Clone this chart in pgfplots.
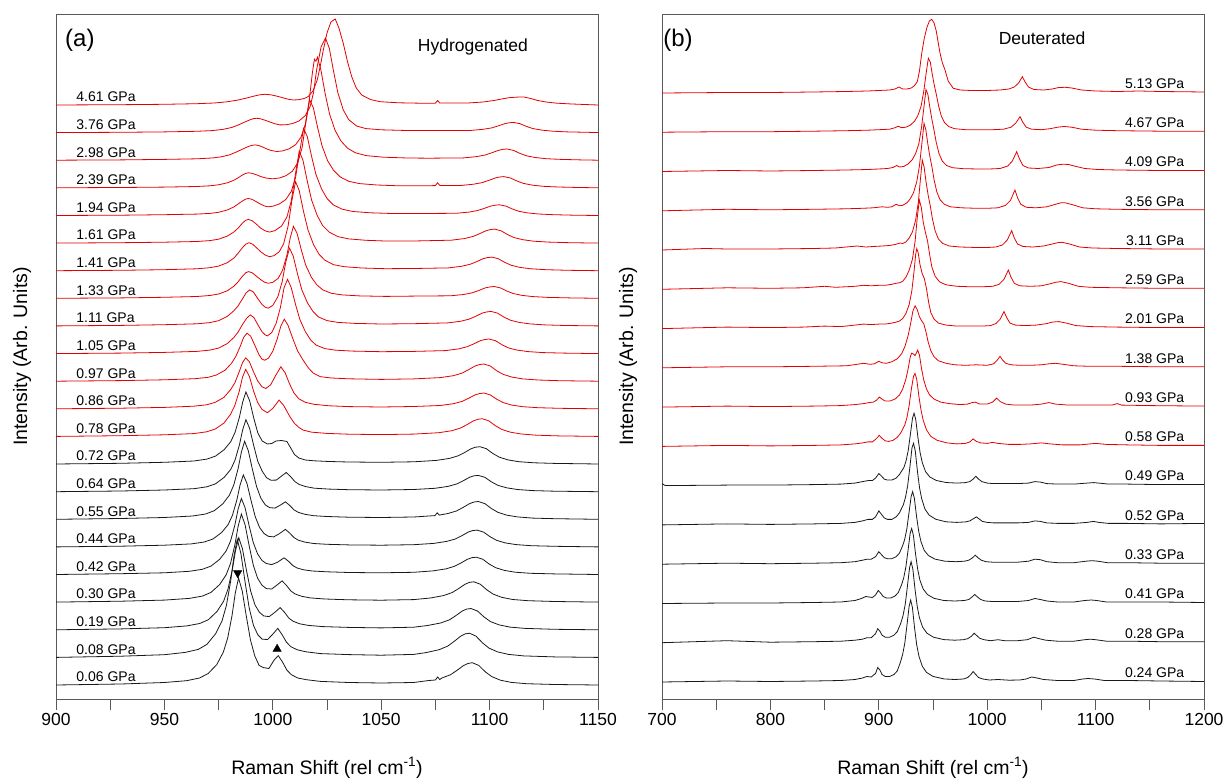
\documentclass[border=0pt]{standalone}
\usepackage{fontspec}
\setmainfont{Liberation Sans}
\usepackage{pgfplots}
\pgfplotsset{compat=1.18}
\definecolor{sred}{RGB}{228,0,0}
\definecolor{sblk}{RGB}{25,25,25}
\pgfplotsset{
  panel/.style={scale only axis, width=542pt, height=685pt, ymin=0, ymax=685,
   ytick=\empty, axis line style={black!65, line width=0.9pt},
   tick align=outside, xtick pos=bottom, major tick length=11pt, minor tick length=11pt,
   tick style={black!65, line width=0.9pt},
   xticklabel style={font=\fontsize{17.5}{17.5}\selectfont},
   /pgf/number format/assume math mode=true,
   /pgf/number format/set thousands separator={},
   xlabel={Raman Shift (rel cm\textsuperscript{-1})},
   ylabel={Intensity (Arb. Units)},
   label style={font=\fontsize{19.5}{19.5}\selectfont},
   xlabel style={at={(axis description cs:0.5,-0.1095)}, anchor=base},
   ylabel style={at={(axis description cs:-0.0627,0.5)}, anchor=center},
  },
  sp/.style={mark=none, line width=0.8pt, y filter/.expression={y+#1}},
}
\newcommand{\lbl}[2]{\node[anchor=west, font=\fontsize{14}{14}\selectfont] at (axis cs:907.8,#1) {#2};}
\newcommand{\rlbl}[2]{\node[anchor=east, font=\fontsize{14}{14}\selectfont] at (axis cs:1185,#1) {#2};}
\begin{document}
\begin{tikzpicture}
\path[use as bounding box] (0,0) rectangle (1224pt,780pt);
%================ LEFT PANEL =================
\begin{axis}[panel, at={(56pt,81pt)}, anchor=south west,
  xmin=900, xmax=1150, xtick={900,950,1000,1050,1100,1150}, minor x tick num=1]
% black spectra
\addplot[sblk, sp=14] coordinates {(900,0)(930,1)(950,2.5)(960.2,4.3)(966.2,7)(970.2,11.5)(974.2,20.5)(977.2,33)(979.2,47)(981.2,69.5)(982.7,92)(984.2,107)(985.9,94)(987.8,68.5)(989.7,45)(991.7,29)(993.7,19.5)(995.7,17.4)(998.2,16.5)(1000.5,24.6)(1002.5,29.4)(1004.5,22.9)(1006.5,14.9)(1008.5,10.4)(1011.5,7)(1015.5,5.3)(1022,3.6)(1035,2.5)(1050,2)(1065,2.5)(1072,4.5)(1075,5)(1076,8)(1077,5.5)(1078,7)(1082,10.3)(1085,14.7)(1088,19.5)(1090,21.5)(1092,22.3)(1095,19.6)(1098,13.2)(1101,8.4)(1105,4.8)(1110,2.6)(1117,1.3)(1130,0.5)(1150,0)};
\addplot[sblk, sp=41.6] coordinates {(900,0)(930,1.2)(950,2.7)(959.6,5)(965.6,8)(969.6,13)(973.6,23.6)(976.6,36.6)(978.6,52)(980.6,76.7)(982.1,101.5)(983.6,118)(985.3,103.8)(987.2,75.5)(989.1,49.6)(991.1,31.9)(993.1,22.6)(995.1,18.2)(997.6,17.9)(999.9,23)(1002.3,29)(1004.3,22.7)(1006.3,15.2)(1008.3,10.7)(1011.3,7.6)(1015.3,5.6)(1022,3.8)(1035,2.8)(1050,2.2)(1065,3)(1070.7,4.8)(1076.7,7.7)(1080.7,11.3)(1083.7,16.1)(1086.7,21.3)(1088.7,23.5)(1090.7,24.2)(1093.7,21.3)(1096.7,14.6)(1099.7,9.3)(1103.7,5.5)(1108.7,3)(1115.7,1.5)(1130,0.5)(1150,0)};
\addplot[sblk, sp=69.2] coordinates {(900,0)(930,0.9)(950,2.1)(960.3,3.9)(966.3,6.3)(970.3,10.1)(974.3,18.4)(977.3,28.5)(979.3,40.5)(981.3,59.8)(982.8,79.1)(984.3,92)(986,81)(987.9,58.9)(989.8,38.6)(991.8,24.8)(993.8,17.6)(995.8,13.9)(998.3,13.2)(1000.9,17.4)(1003.4,22.2)(1005.4,17.5)(1007.4,11.7)(1009.4,8.5)(1012.4,6)(1016.4,4.4)(1023,3.2)(1035,2.4)(1050,1.9)(1065,2.6)(1071.4,4.3)(1077.4,6.8)(1081.4,9.9)(1084.4,14.1)(1087.4,18.8)(1089.4,20.7)(1091.4,21.3)(1094.4,18.8)(1097.4,12.9)(1100.4,8.2)(1104.4,4.9)(1109.4,2.7)(1116.4,1.4)(1130,0.5)(1150,0)};
\addplot[sblk, sp=96.9] coordinates {(900,0)(930,0.9)(950,2)(961.5,3.7)(967.5,6)(971.5,9.7)(975.5,17.6)(978.5,27.3)(980.5,38.7)(982.5,57.2)(984,75.7)(985.5,88)(987.2,77.4)(989.1,56.3)(991,37)(993,23.8)(995,16.9)(997,13.5)(999.5,13.1)(1002,17.2)(1004.3,21.2)(1006.3,16.7)(1008.3,11.2)(1010.3,8.1)(1013.3,5.8)(1017.3,4.2)(1024,3.1)(1035,2.3)(1050,1.9)(1065,2.5)(1072.7,4.1)(1078.7,6.5)(1082.7,9.5)(1085.7,13.5)(1088.7,17.9)(1090.7,19.7)(1092.7,20.3)(1095.7,17.9)(1098.7,12.3)(1101.7,7.9)(1105.7,4.7)(1110.7,2.6)(1117.7,1.4)(1130,0.6)(1150,0)};
\addplot[sblk, sp=124.5] coordinates {(900,0)(930,0.8)(950,1.7)(961.5,3.2)(967.5,5.2)(971.5,8.4)(975.5,15.2)(978.5,23.6)(980.5,33.4)(982.5,49.4)(984,65.4)(985.5,76)(987.2,66.9)(989.1,48.6)(991,31.9)(993,20.5)(995,14.1)(997,11)(999.5,9.9)(1002.2,12.3)(1005.2,16.7)(1007.2,13.3)(1009.2,9)(1011.2,6.5)(1014.2,4.7)(1018.2,3.5)(1025,2.7)(1035,2)(1050,1.7)(1065,2.2)(1073.8,3.6)(1079.8,5.6)(1083.8,8.2)(1086.8,11.5)(1089.8,15.3)(1091.8,16.8)(1093.8,17.3)(1096.8,15.3)(1099.8,10.5)(1102.8,6.8)(1106.8,4.1)(1111.8,2.3)(1118.8,1.2)(1130,0.6)(1150,0)};
\addplot[sblk, sp=152.1] coordinates {(900,0)(930,0.7)(950,1.7)(962.4,3)(968.4,4.9)(972.4,7.9)(976.4,14.4)(979.4,22.3)(981.4,31.7)(983.4,46.8)(984.9,61.9)(986.4,72)(988.1,63.4)(990,46.1)(991.9,30.2)(993.9,19.4)(995.9,13.5)(997.9,10.6)(1000.4,10)(1003.1,13.3)(1005.8,17.6)(1007.8,13.8)(1009.8,9.3)(1011.8,6.7)(1014.8,4.8)(1018.8,3.4)(1025,2.6)(1035,2)(1050,1.7)(1065,2.2)(1074.2,3.5)(1080.2,5.5)(1084.2,7.9)(1087.2,11.2)(1090.2,14.9)(1092.2,16.3)(1094.2,16.8)(1097.2,14.8)(1100.2,10.2)(1103.2,6.6)(1107.2,4)(1112.2,2.3)(1119.2,1.2)(1130,0.6)(1150,0)};
\addplot[sblk, sp=179.7] coordinates {(900,0)(930,0.8)(950,1.8)(963,3.3)(969,5.3)(973,8.6)(977,15.6)(980,24.2)(982,34.3)(984,50.7)(985.5,67.1)(987,78)(988.7,68.6)(990.6,49.9)(992.5,32.8)(994.5,21.1)(996.5,14.5)(998.5,11.7)(1001,11.2)(1003.5,14.2)(1005.8,17.5)(1007.8,13.9)(1009.8,9.4)(1011.8,6.9)(1014.8,5)(1018.8,3.6)(1025,2.8)(1035,2.1)(1050,1.8)(1065,2.3)(1074.8,3.7)(1075.8,6.5)(1076.8,4.2)(1080.8,5.8)(1084.8,8.4)(1087.8,11.9)(1090.8,15.7)(1092.8,17.3)(1094.8,17.8)(1097.8,15.7)(1100.8,10.8)(1103.8,7)(1107.8,4.2)(1112.8,2.4)(1119.8,1.2)(1130,0.6)(1150,0)};
\addplot[sblk, sp=207.3] coordinates {(900,0)(930,0.7)(950,1.7)(963.6,3)(969.6,4.9)(973.6,7.9)(977.6,14.4)(980.6,22.3)(982.6,31.7)(984.6,46.8)(986.1,61.9)(987.6,72)(989.3,63.4)(991.2,46.1)(993.1,30.2)(995.1,20.6)(997.1,14)(999.1,11.5)(1001.6,11.6)(1004,15.6)(1006.2,19.2)(1008.2,15.1)(1010.2,10.1)(1012.2,7.2)(1015.2,5.1)(1019.2,3.5)(1026,2.6)(1035,2)(1050,1.7)(1065,2.2)(1074.8,3.4)(1080.8,5.3)(1084.8,7.7)(1087.8,10.9)(1090.8,14.5)(1092.8,15.9)(1094.8,16.3)(1097.8,14.4)(1100.8,9.9)(1103.8,6.4)(1107.8,3.9)(1112.8,2.2)(1119.8,1.1)(1130,0.5)(1150,0)};
\addplot[sblk, sp=235] coordinates {(900,0)(930,0.7)(950,1.7)(963.6,3)(969.6,4.9)(973.6,7.9)(977.6,14.4)(980.6,22.3)(982.6,31.7)(984.6,46.8)(986.1,61.9)(987.6,72)(989.3,63.4)(991.2,46.1)(993.1,31)(995.1,23)(997.5,20)(999.5,20.5)(1001.5,23)(1004,23.5)(1006.5,22.5)(1008,17)(1010,9.5)(1012,6)(1015,4)(1019,3.2)(1026,2.5)(1035,2)(1050,1.7)(1065,2.2)(1075.5,3.6)(1081.5,5.6)(1085.5,8.2)(1088.5,11.5)(1091.5,15.3)(1093.5,16.8)(1095.5,17.3)(1098.5,15.3)(1101.5,10.5)(1104.5,6.8)(1108.5,4.1)(1113.5,2.3)(1120.5,1.2)(1130,0.6)(1150,0)};
% red spectra
\addplot[sred, sp=262.6] coordinates {(900,0)(930,0.7)(950,1.6)(963.5,2.8)(969.5,4.6)(973.5,7.4)(977.5,13.4)(980.5,22)(982.5,31)(984.5,45)(986,59)(987.5,67)(989.2,60)(991.1,45.5)(993,34)(995,27)(997.5,23.7)(1000,28)(1002.9,36.3)(1005,31)(1007.9,19.7)(1010,13)(1012,9)(1014,6.3)(1018,4.2)(1025,3)(1035,2.2)(1050,1.8)(1065,2.3)(1076.6,3.7)(1082.6,5.7)(1086.6,8.4)(1089.6,11.8)(1092.6,15.6)(1094.6,17.1)(1096.6,17.7)(1099.6,15.6)(1102.6,10.8)(1105.6,7)(1109.6,4.2)(1114.6,2.4)(1121.6,1.2)(1132,0.5)(1150,0)};
\addplot[sred, sp=290.2] coordinates {(900,0)(930,0.6)(950,1.4)(963.5,2.6)(969.5,4)(973.5,6.5)(977.5,11.5)(980.5,19)(982.5,26)(984.5,37)(986,46)(987.5,51)(989.2,47)(991.1,37)(993,28)(995,22)(996.8,20.3)(999,24)(1001.5,34)(1003.7,42)(1005.7,36)(1007.7,25)(1009.7,16)(1012,10)(1015,6.5)(1019,4.5)(1026,3)(1035,2.2)(1050,1.8)(1065,2.3)(1077.3,3.3)(1083.3,5.1)(1087.3,7.4)(1090.3,10.5)(1093.3,13.9)(1095.3,15.2)(1097.3,15.8)(1100.3,13.9)(1103.3,9.6)(1106.3,6.2)(1110.3,3.7)(1115.3,2.1)(1122.3,1.1)(1132,0.5)(1150,0)};
\addplot[sred, sp=317.8] coordinates {(900,0)(930,0.6)(950,1.4)(964,2.5)(970,3.8)(974,6.2)(978,11)(981,18)(983,25)(985,35)(986.6,44)(988.1,48)(989.8,45)(991.7,36)(993.5,27)(995,22)(996.3,21)(998,23)(1000,30)(1002,42)(1003.7,55)(1005.3,62)(1007,56)(1009.5,41)(1011.5,30)(1014,21)(1016.5,13)(1018.7,8)(1022,4.5)(1027,3.2)(1035,2.4)(1050,1.8)(1065,2.3)(1077.3,3.6)(1083.3,5.5)(1087.3,8.1)(1090.3,11.5)(1093.3,15.2)(1095.3,16.6)(1097.3,17.2)(1100.3,15.2)(1103.3,10.4)(1106.3,6.8)(1110.3,4.1)(1115.3,2.3)(1122.3,1.2)(1132,0.5)(1150,0)};
\addplot[sred, sp=345.4] coordinates {(900,0)(930,0.5)(950,1.2)(965,2.2)(971,3.5)(975,5.5)(979,10)(982,16)(984,21.5)(986,29)(988,35.5)(989.6,38.7)(991.3,36)(993.2,28.5)(995,22)(996.3,19)(997.5,17.7)(999.5,21)(1001.5,30)(1003.5,46)(1005.2,66)(1006.8,74.3)(1008.5,66)(1010.5,49)(1012.5,34)(1015,22)(1017.5,13.5)(1020,8.5)(1024,5)(1029,3.4)(1037,2.5)(1050,1.9)(1065,2.2)(1079.7,3)(1085.7,4.7)(1089.7,6.9)(1092.7,9.7)(1095.7,12.9)(1097.7,14)(1099.7,14.6)(1102.7,12.9)(1105.7,8.9)(1108.7,5.7)(1112.7,3.5)(1117.7,2)(1124.7,1)(1134,0.5)(1150,0)};
\addplot[sred, sp=373.1] coordinates {(900,0)(930,0.5)(950,1.2)(965,2.1)(971,3.3)(975,5.2)(979,9.5)(982,15)(984,20)(986,27)(987.7,33)(989.3,36)(991,34)(993,27.5)(995,21.5)(996.5,18.7)(997.9,17.7)(1000,20.5)(1002.3,29)(1004.3,44)(1006,64)(1007.7,77.7)(1009.4,70)(1011.4,52)(1013.4,36)(1016,23)(1018.5,14.5)(1021,9)(1025,5.3)(1030,3.5)(1038,2.5)(1050,1.9)(1065,2.2)(1080.6,3)(1086.6,4.6)(1090.6,6.8)(1093.6,9.6)(1096.6,12.8)(1098.6,13.9)(1100.6,14.5)(1103.6,12.8)(1106.6,8.8)(1109.6,5.7)(1113.6,3.5)(1118.6,2)(1125.6,1)(1135,0.4)(1150,0)};
\addplot[sred, sp=400.7] coordinates {(900,0)(930,0.4)(950,1)(965,1.8)(971,2.8)(975,4.3)(979,7.5)(982,12)(984,16.5)(986,22)(987.5,25.5)(988.8,26.7)(990.5,25.5)(992.5,22)(994.5,18.5)(996.3,16)(997.9,15)(1000,16)(1002.5,20)(1004.5,28)(1006.5,43)(1008,60)(1009.5,72)(1011.2,65)(1013.2,48)(1015.2,33)(1017.8,21)(1020.3,13.5)(1023,8.5)(1027,5)(1032,3.4)(1040,2.4)(1052,1.9)(1065,2.2)(1082,2.5)(1088,3.8)(1092,5.5)(1095,7.8)(1098,10.4)(1100,11.3)(1102,11.8)(1105,10.4)(1108,7.2)(1111,4.7)(1115,2.9)(1120,1.7)(1127,0.9)(1137,0.4)(1150,0)};
\addplot[sred, sp=428.3] coordinates {(900,0)(930,0.4)(950,1)(965,1.9)(971,3)(975,4.6)(979,8)(982,12.5)(984,17.5)(986,23)(987.5,26.5)(989,28)(990.7,26.5)(992.7,22.5)(994.7,18.5)(996.6,15.5)(998.5,14)(1000.5,15)(1003,19)(1005,27)(1007,44)(1008.8,70)(1010.5,89)(1012.2,80)(1014.2,59)(1016.2,41)(1018.8,26)(1021.3,16.5)(1024,10.5)(1028,6)(1033,4)(1041,2.7)(1052,2)(1065,2.2)(1081,2.8)(1087,4.4)(1091,6.4)(1094,9)(1097,12)(1099,13.1)(1101,13.6)(1104,12)(1107,8.3)(1110,5.4)(1114,3.3)(1119,1.9)(1126,1)(1136,0.4)(1150,0)};
\addplot[sred, sp=455.9] coordinates {(900,0)(930,0.4)(950,0.9)(965,1.6)(971,2.5)(975,3.9)(979,7)(982,11)(984,15)(986,20)(987.4,22.7)(988.7,23.7)(990.4,22.5)(992.4,19)(994.4,15)(996.4,12.3)(998.5,11)(1001,12.5)(1004,17)(1006.5,26)(1008.5,42)(1010.5,70)(1012.2,92)(1013.9,83)(1015.9,62)(1017.9,43)(1020.5,27.5)(1023,17.5)(1026,11)(1030,6.5)(1035,4.2)(1043,2.8)(1053,2)(1065,2.1)(1082.3,2.9)(1088.3,4.5)(1092.3,6.6)(1095.3,9.3)(1098.3,12.3)(1100.3,13.5)(1102.3,14)(1105.3,12.3)(1108.3,8.5)(1111.3,5.5)(1115.3,3.4)(1120.3,1.9)(1127.3,1)(1137,0.4)(1150,0)};
\addplot[sred, sp=483.5] coordinates {(900,0)(930,0.3)(950,0.8)(965,1.4)(971,2.1)(975,3.2)(979,5.5)(982,8.5)(984,11.5)(986,14.5)(987.4,16.3)(988.7,17)(990.4,16.2)(992.4,13.8)(994.4,11.3)(996.2,9.5)(997.9,8.7)(1000,9.3)(1003,11.5)(1006,16)(1008.5,24)(1010.5,38)(1012.5,65)(1014.2,87)(1015.9,79)(1017.9,59)(1019.9,41)(1022.5,26.5)(1025,17)(1028,10.5)(1032,6.3)(1037,4)(1045,2.7)(1055,2)(1068,2)(1084.5,2.2)(1090.5,3.4)(1094.5,5)(1097.5,7.1)(1100.5,9.4)(1102.5,10.3)(1104.5,10.7)(1107.5,9.4)(1110.5,6.5)(1113.5,4.2)(1117.5,2.6)(1122.5,1.5)(1129.5,0.8)(1139,0.3)(1150,0)};
\addplot[sred, sp=511.2] coordinates {(900,0)(930,0.3)(950,0.7)(965,1.3)(971,2)(975,3)(979,5)(982,7.5)(984,10)(986,12.8)(987.4,14.3)(988.7,15)(990.5,14.5)(992.5,13)(994.5,11.2)(997,9.7)(1000,9)(1003,9.8)(1006,12)(1009,16.5)(1011.5,25)(1013.5,40)(1015.3,66)(1017,88)(1018.7,80)(1020.7,60)(1022.7,42)(1025.3,27)(1028,17.5)(1031,11)(1035,6.5)(1040,4.2)(1048,2.8)(1058,2)(1070,2)(1075,2.2)(1076,5)(1077,2.4)(1086.6,2.3)(1092.6,3.6)(1096.6,5.2)(1099.6,7.4)(1102.6,9.8)(1104.6,10.8)(1106.6,11.2)(1109.6,9.8)(1112.6,6.8)(1115.6,4.4)(1119.6,2.7)(1124.6,1.5)(1131.6,0.8)(1141,0.3)(1150,0)};
\addplot[sred, sp=538.8] coordinates {(900,0)(930,0.3)(950,0.8)(965,1.4)(972,2.2)(976,3.3)(980,5.3)(983,8)(986,11)(988.5,13.5)(990.3,14.8)(991.8,15.3)(993.5,14.7)(995.5,13)(997.5,11)(999.7,9.5)(1001.9,8.7)(1004.5,9.3)(1007.5,11.3)(1010.5,15.5)(1013,23)(1015,36)(1016.8,60)(1018.3,88)(1019.2,101)(1019.9,99)(1020.6,103)(1022.2,90)(1024.2,66)(1026.2,46)(1028.8,29.5)(1031.5,19)(1034.5,12)(1038,7.5)(1043,4.6)(1051,3)(1062,2.2)(1072,2)(1088,2.3)(1094,3.6)(1098,5.2)(1101,7.4)(1104,9.8)(1106,10.8)(1108,11.2)(1111,9.8)(1114,6.8)(1117,4.4)(1121,2.7)(1126,1.5)(1133,0.8)(1142,0.3)(1150,0)};
\addplot[sred, sp=566.4] coordinates {(900,0)(930,0.3)(950,0.7)(965,1.3)(972,2)(977,3.2)(981,5.1)(984,7.5)(987,10.5)(989.5,12.8)(991.2,14)(992.6,14.3)(994.3,13.8)(996.5,12.3)(998.8,10.5)(1001,8.8)(1003.3,7.7)(1006,7.8)(1009,9)(1012,11.5)(1015,17)(1017.2,26)(1018.8,40)(1020.2,62.7)(1022.3,86)(1024.3,94.5)(1026.1,84)(1027.9,62.7)(1030,40)(1032.5,22.7)(1035,13)(1038.7,6.5)(1043,4)(1050,2.8)(1060,2.2)(1072,2)(1091,2.1)(1097,3.3)(1101,4.7)(1104,6.7)(1107,8.9)(1109,9.8)(1111,10.2)(1114,8.9)(1117,6.2)(1120,4)(1124,2.5)(1129,1.4)(1136,0.7)(1145,0.3)(1150,0)};
\addplot[sred, sp=594] coordinates {(900,0)(930,0.3)(950,0.7)(965,1.3)(973,2)(979,3.2)(984,5)(988,7)(991.5,9)(994,10.2)(996.4,10.7)(999,10.2)(1002,8.8)(1005,7)(1007.5,5.6)(1009.5,5)(1012,5.3)(1014.5,6.5)(1016.4,8.5)(1018.5,14)(1020.5,25)(1022,40)(1023.3,55)(1025,72)(1026.8,83)(1028.8,86)(1030.5,77)(1032.5,61.7)(1034.5,43)(1036.4,28.3)(1038.5,17)(1041,10)(1045,5.5)(1049.4,3.3)(1058,2.2)(1068,1.8)(1075,1.8)(1076,4.5)(1077,2)(1090,2)(1097,3)(1102,4.5)(1106,6.2)(1109,7.3)(1112,7.8)(1114,8)(1116,7.9)(1119,6.5)(1122,4.6)(1126,3)(1131,1.8)(1138,1)(1145,0.4)(1150,0)};
% markers
\addplot[only marks, mark=triangle*, mark size=4.8pt, mark options={rotate=180, fill=black, draw=black}] coordinates {(983.8,126)};
\addplot[only marks, mark=triangle*, mark size=4.8pt, mark options={fill=black, draw=black}] coordinates {(1002,50)};
% labels
\lbl{22}{0.06 GPa}
\lbl{49.6}{0.08 GPa}
\lbl{77.2}{0.19 GPa}
\lbl{104.9}{0.30 GPa}
\lbl{132.5}{0.42 GPa}
\lbl{160.1}{0.44 GPa}
\lbl{187.7}{0.55 GPa}
\lbl{215.3}{0.64 GPa}
\lbl{243}{0.72 GPa}
\lbl{270.6}{0.78 GPa}
\lbl{298.2}{0.86 GPa}
\lbl{325.8}{0.97 GPa}
\lbl{353.4}{1.05 GPa}
\lbl{381.1}{1.11 GPa}
\lbl{408.7}{1.33 GPa}
\lbl{436.3}{1.41 GPa}
\lbl{463.9}{1.61 GPa}
\lbl{491.5}{1.94 GPa}
\lbl{519.2}{2.39 GPa}
\lbl{546.8}{2.98 GPa}
\lbl{574.4}{3.76 GPa}
\lbl{602}{4.61 GPa}
\node[font=\fontsize{17.5}{17.5}\selectfont] at (axis cs:1092.3,652) {Hydrogenated};
\node[font=\fontsize{24}{24}\selectfont] at (axis cs:911,659) {(a)};
\end{axis}
%================ RIGHT PANEL =================
\begin{axis}[panel, at={(662pt,81pt)}, anchor=south west,
  xmin=700, xmax=1200, xtick={700,800,900,1000,1100,1200}, minor x tick num=1]
% black
\addplot[sblk, sp=17] coordinates {(700,0)(760,1)(800,0.5)(840,1)(865,1.5)(878,2.5)(885,4)(889,5.5)(893,5)(897,8.5)(899,14.5)(901,12)(903,7.5)(906,5.5)(910,5.5)(914,7.5)(917,11)(920,20)(922,27.6)(924,39)(926,57)(928,76)(929.4,82)(931,74.6)(933,54)(935,37)(937,26)(940,16)(944,9.6)(950,5.6)(960,3.1)(970,2.5)(978,3)(982,4.5)(985,7.5)(987,10.5)(989,8)(992,4.5)(996,3)(1002,2)(1010,2.5)(1020,1.8)(1030,2)(1036,3)(1041,5)(1046,4)(1052,2.5)(1065,1.5)(1080,1.5)(1088,3)(1093,3.5)(1099,3)(1108,1.5)(1130,1.5)(1160,1)(1200,0.5)};
\addplot[sblk, sp=56.3] coordinates {(700,0)(760,2)(800,0.5)(840,1)(865,1.5)(878,2.5)(885,3.5)(889,5)(893,5)(897,9)(899,14)(901,11.5)(903,7.5)(906,5.5)(910,5.5)(914,7.5)(917,11)(920.4,19.8)(922.4,27.3)(924.4,38.5)(926.4,56.5)(928.4,75)(929.8,81)(931.4,73.7)(933.4,53.5)(935.4,36.6)(937.4,25.3)(940.4,15.6)(944.4,9.5)(950.4,5.5)(960,3.1)(970,2.5)(978,3)(982,4)(985.5,6.5)(988,9.5)(990,7.5)(993,4.5)(997,3)(1003,2)(1010,3)(1016,2)(1028,2)(1037,3)(1043,5.5)(1048,4)(1054,2.5)(1065,1.5)(1080,1.5)(1090,3)(1095,3.5)(1100,3)(1110,1.5)(1130,1.5)(1160,1)(1200,1)};
\addplot[sblk, sp=95.5] coordinates {(700,0)(760,0.5)(800,0.5)(840,1)(865,1.5)(878,3)(884,5)(888,7)(891,6.5)(894,6)(897,8.5)(899.5,13)(902,10)(904,7)(907,5.5)(911,5.5)(915,7.5)(918,11)(920.9,18.5)(922.9,25.3)(924.9,36)(926.9,52.5)(928.9,70)(930.3,75)(931.9,68.3)(933.9,49.5)(935.9,34)(937.9,23.5)(940.9,14.5)(944.9,8.9)(950.9,5.2)(960,3)(970,2.5)(979,3)(983,4)(986,6.5)(988.5,9)(991,6.5)(994,4)(998,2.5)(1005,2)(1015,2)(1028,2)(1038,3)(1044,5)(1049,4)(1055,2.5)(1065,1.5)(1080,1.5)(1090,3)(1096,3.5)(1101,3)(1110,1.5)(1130,1.5)(1160,1.5)(1200,1)};
\addplot[sblk, sp=134.8] coordinates {(700,0)(760,1)(800,0.5)(840,1)(865,1.5)(878,2.5)(885,4)(889,5)(893,5)(897,7.5)(900,12.5)(902.5,9.5)(905,6.5)(908,5.5)(912,5.5)(916,7.5)(919,11)(921.8,18)(923.8,24.5)(925.8,34.8)(927.8,51)(929.8,67.5)(931.2,72.5)(932.8,66)(934.8,48)(936.8,33)(938.8,23)(941.8,14)(945.8,8.6)(951.8,5.1)(961,3)(971,2.5)(979,3)(983,4)(986,6)(989,9)(991.5,6.5)(994.5,4)(999,2.5)(1005,2)(1015,2)(1028,2)(1038,3)(1044,5)(1049,4.5)(1055,2.5)(1065,1.5)(1080,1.5)(1091,3)(1097,3.5)(1102,3)(1111,1.5)(1130,1.5)(1160,1)(1200,1)};
\addplot[sblk, sp=174.1] coordinates {(700,0)(760,1)(800,0.5)(840,1)(865,1.5)(878,2.5)(885,4)(890,5.5)(894,5.5)(897,8)(900,14)(902.5,10.5)(905,7)(908,5.5)(912,5.5)(916,8)(919,12)(922.6,20)(924.6,27.5)(926.6,39)(928.6,57)(930.6,77)(932,81.6)(933.6,74.3)(935.6,54)(937.6,37)(939.6,26)(942.6,15.7)(946.6,9.6)(952.6,5.6)(962,3.1)(972,2.5)(980,3)(984,4)(987,6)(990,8)(992.5,6)(995.5,3.5)(1000,2.5)(1006,2)(1015,2)(1028,2)(1038,2.5)(1044,4)(1049,3.5)(1055,2)(1065,1.5)(1080,1.5)(1092,2.5)(1098,3.5)(1103,2.5)(1112,1.5)(1130,1.5)(1160,1)(1200,1.5)};
\addplot[sblk, sp=213.4] coordinates {(700,2)(703,0)(760,0.5)(800,0.5)(840,1)(865,1.5)(878,2.5)(885,4)(890,5)(894,5)(897,7.5)(900,12)(902.5,9.5)(905,6.5)(908,5.5)(912,5.5)(916,7.5)(919,11)(923.1,18)(925.1,24.5)(927.1,34.8)(929.1,51)(931.1,67.5)(932.5,72.4)(934.1,66)(936.1,48)(938.1,33)(940.1,23)(943.1,14)(947.1,8.6)(953.1,5.1)(962,3.1)(972,2.5)(980,3)(984,4)(987,6.5)(989.5,9.3)(992,6.5)(995,4)(1000,2.5)(1006,2)(1015,2)(1028,2)(1038,2.5)(1044,4)(1049,3.5)(1055,2)(1065,1.5)(1080,1.5)(1092,2.5)(1098,3)(1103,2.5)(1112,1.5)(1130,1.5)(1160,1)(1200,1)};
% red
\addplot[sred, sp=252.6] coordinates {(700,0)(760,1)(800,0.5)(840,1)(865,1.5)(878,2.5)(885,3.5)(890,4.5)(894,4.5)(897,7)(900.5,11)(903,8)(906,5.5)(909,5)(913,6)(917,9)(920,13)(924,21.5)(926,29)(928,41)(930,57)(932,70)(933.4,73)(935,67)(937,50)(939,36)(941,26)(944,16.5)(948,10)(954,6)(963,3.5)(972,2.5)(980,3)(984,4.5)(987,7.5)(990,5)(994,3.5)(1000,3)(1005,4)(1010,3)(1020,2)(1030,2)(1040,2.5)(1050,3.5)(1058,2.5)(1070,1.5)(1085,1.5)(1100,3)(1110,2)(1130,1.5)(1160,1)(1200,1)};
\addplot[sred, sp=291.9] coordinates {(700,0)(760,1)(800,0.5)(840,1)(865,1.5)(878,2.5)(886,3.5)(891,4.5)(895,5)(898,7)(900.5,10)(903,8)(906,6)(910,6)(915,8)(919,12)(922,18)(925,28)(927,38)(929,50)(930.3,54)(932,53)(933.5,51.5)(935.9,57)(937.5,52)(939.5,38)(941.5,27)(944,18)(947,12)(951,8)(957,5)(965,3.5)(975,2.5)(982,3)(986,4.5)(989,5)(993,3)(1000,3)(1005,5)(1008.7,9)(1012,5.5)(1017,3)(1025,2)(1040,2)(1050,3)(1057,4.5)(1063,3)(1075,2)(1090,2)(1105,2)(1115,2)(1120,3.5)(1124,2)(1150,1.5)(1200,1)};
\addplot[sred, sp=331.2] coordinates {(700,0)(760,1)(800,1)(840,1.5)(870,2)(880,3.5)(886,4.5)(892,3.5)(896,4)(900,6.5)(903,5)(907,4.5)(912,6)(917,9)(921,14)(924,21)(927,32)(929.5,45)(931.5,57)(933.5,62)(935.5,58)(937.5,51)(939.5,47)(941.5,44)(943.5,36)(945.5,26)(948,17)(951,11)(955,7)(962,4.5)(970,3)(980,2.5)(990,3)(1000,2.5)(1006,4)(1009.5,8)(1011.8,11.5)(1014,8)(1017,4.5)(1022,3)(1030,2.5)(1040,2.5)(1050,3)(1057,4)(1063,4.5)(1070,3.5)(1080,2)(1095,1.5)(1120,1.5)(1160,1)(1200,1)};
\addplot[sred, sp=370.4] coordinates {(700,0)(760,1.5)(800,1)(830,1.5)(850,2.5)(865,2)(878,3.5)(886,4.5)(893,4)(900,4.5)(906,4.5)(912,5.5)(916,6.5)(919,7.5)(922,10)(925,15)(928,24)(930.5,38)(932.5,57)(934,74)(935,80)(936.3,76)(938,64)(940,55)(942,50)(944,40)(946,26)(948,16)(951,9.5)(955,5.5)(962,3.5)(972,2.5)(985,2.5)(995,2.5)(1003,3)(1008,5)(1012,9.5)(1015.5,17)(1018,11)(1021,5.5)(1026,3.5)(1035,3)(1045,3.5)(1055,5)(1060,6.5)(1066,7)(1073,5.5)(1082,3)(1095,2)(1120,1.5)(1160,1)(1200,1)};
\addplot[sred, sp=409.7] coordinates {(700,0)(760,1.5)(800,1)(830,1.5)(850,3)(860,2)(878,3)(886,4)(893,3.5)(900,4)(906,4)(912,5)(916,6)(919,6.5)(922,8)(925,12)(928,19)(931,30)(933.5,48)(935.5,72)(937.4,89.3)(939.2,82)(941,67)(943,57)(945,48)(947,34)(949,22)(952,13)(956,7.5)(962,4.5)(972,3)(985,2.5)(995,2.5)(1005,3)(1011,5)(1015.5,10)(1019.5,19.3)(1022,12)(1025,6)(1030,3.5)(1040,3)(1050,3.5)(1058,5.5)(1063,7)(1068,7.7)(1075,6)(1084,3)(1095,2)(1120,1.5)(1160,1)(1200,1)};
\addplot[sred, sp=449] coordinates {(700,0)(740,1.5)(760,1)(800,1)(840,1.5)(860,2)(870,3)(880,4)(888,3)(895,3.5)(903,4)(910,4.5)(915,5.5)(919.7,7)(922,6.5)(925,8)(928,12)(931,18)(934,30)(936.5,48)(938.5,72)(940.1,90)(941.8,83)(943.6,68)(945.5,55)(947.5,44)(949.5,31)(952,19)(955,11)(959,6.5)(965,4)(975,3)(990,2.5)(1000,2.5)(1008,3)(1014,5)(1018.5,10)(1022.6,19.3)(1025,12)(1028,6)(1033,3.5)(1042,3)(1052,4)(1060,6)(1065,7.3)(1069,7.7)(1076,6)(1085,3)(1097,2)(1120,1.5)(1160,1)(1200,1)};
\addplot[sred, sp=488.2] coordinates {(700,0)(740,1)(760,1.5)(800,1)(840,1.5)(870,2)(885,2.5)(895,3)(903,4)(908,3.5)(912,4)(916,6.5)(919,5)(922,5.5)(926,8)(929,12)(932,18)(935,29)(937.5,45)(939.8,68)(941.7,87.5)(943.4,81)(945.2,67)(947,55)(949,44)(951,31)(953.5,19)(956.5,11)(960.5,6.5)(966,4)(976,3)(990,2.5)(1000,2.5)(1010,3)(1017,5.5)(1021.5,10.5)(1025.6,20.8)(1028,13)(1031,6.5)(1036,3.5)(1045,3)(1055,4)(1063,6.5)(1068,8)(1072,8)(1079,6)(1088,3)(1100,2)(1120,1.5)(1160,1)(1200,1)};
\addplot[sred, sp=527.5] coordinates {(700,0)(760,1)(800,0.5)(840,1)(870,1.5)(890,2)(900,2.5)(908,3)(913,4)(916.5,6)(919,4.5)(923,5)(927,7.5)(931,12)(934,18)(937,28)(939.5,45)(941.7,65)(943.5,82)(945.3,77)(947.1,64)(949,52)(951,41)(953,29)(955.5,18)(958.5,10.5)(962.5,6)(968,3.8)(978,2.8)(992,2.5)(1002,2.5)(1012,3)(1019,5.5)(1023.2,10.5)(1027.2,19.8)(1029.8,12.5)(1033,6)(1038,3.5)(1047,3)(1057,4)(1064,6.5)(1070,7.3)(1075,7)(1082,5)(1090,3)(1102,2)(1120,1.5)(1160,1)(1200,1)};
\addplot[sred, sp=566.8] coordinates {(700,0)(760,0.5)(800,0.5)(840,1)(870,1.5)(890,2)(900,2.5)(910,3)(915,4.5)(918,6)(921,4.5)(925,5)(929,7)(933,11)(936,16.5)(939,26)(941.5,41)(943.8,60)(945.7,74)(947.5,70)(949.3,58)(951.2,47)(953.2,37)(955.2,26)(957.7,16)(960.7,9.5)(964.7,5.5)(970,3.5)(980,2.5)(995,2.5)(1005,2.5)(1015,3)(1022,5)(1026.3,9)(1030.3,15.5)(1032.8,10)(1036,5)(1041,3)(1050,2.5)(1058,3.5)(1065,5)(1071,5.7)(1078,5)(1087,3)(1100,2)(1120,1.5)(1160,1)(1200,1)};
\addplot[sred, sp=606] coordinates {(700,0)(760,0.5)(800,0.5)(840,1)(870,1.5)(890,2)(900,2.5)(910,3)(915,4)(918.6,6)(922,4)(926,4)(930,5)(933,7.5)(935.5,11.3)(937.5,22)(939.6,39.7)(942,55)(944.5,66)(946.7,72)(948.8,73.7)(951,70)(953,62)(955,49)(956.5,39.7)(958.7,30)(961.1,23)(964,12)(968.7,4.7)(975,3)(985,2.5)(1000,2.5)(1012,3)(1020,4)(1025,6)(1029,10)(1032.4,16.3)(1035,11)(1038,6)(1043,3.5)(1052,3)(1060,4)(1066,5.5)(1072,5.7)(1078,5)(1087,3)(1100,2)(1120,1.5)(1140,2)(1160,1.5)(1200,1)};
% labels
\rlbl{26.5}{0.24 GPa}
\rlbl{65.8}{0.28 GPa}
\rlbl{105}{0.41 GPa}
\rlbl{144.3}{0.33 GPa}
\rlbl{183.6}{0.52 GPa}
\rlbl{222.9}{0.49 GPa}
\rlbl{262.1}{0.58 GPa}
\rlbl{301.4}{0.93 GPa}
\rlbl{340.7}{1.38 GPa}
\rlbl{379.9}{2.01 GPa}
\rlbl{419.2}{2.59 GPa}
\rlbl{458.5}{3.11 GPa}
\rlbl{497.7}{3.56 GPa}
\rlbl{537}{4.09 GPa}
\rlbl{576.3}{4.67 GPa}
\rlbl{615.5}{5.13 GPa}
\node[font=\fontsize{17.5}{17.5}\selectfont] at (axis cs:1050.6,661) {Deuterated};
\node[font=\fontsize{24}{24}\selectfont] at (axis cs:714.8,659) {(b)};
\end{axis}
\end{tikzpicture}
\end{document}
